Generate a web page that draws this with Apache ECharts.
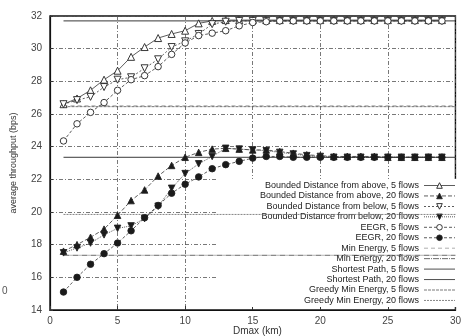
<!DOCTYPE html>
<html><head><meta charset="utf-8">
<script src="https://cdn.jsdelivr.net/npm/echarts@6/dist/echarts.min.js"></script>
<style>html,body{margin:0;padding:0;background:#fff}#c{width:464px;height:336px}</style>
</head><body><div id="c"></div>
<script>
const dmax = [1,2,3,4,5,6,7,8,9,10,11,12,13,14,15,16,17,18,19,20,21,22,23,24,25,26,27,28,29];
const bdAbove5 = [26.6,26.95,27.45,28.1,28.65,29.5,30.1,30.65,30.9,31.1,31.55,31.7,31.75,31.75,31.75,31.75,31.75,31.75,31.75,31.75,31.75,31.75,31.75,31.75,31.75,31.75,31.75,31.75,31.75];
const bdAbove20 = [17.6,18.0,18.45,18.95,19.8,20.7,21.35,22.2,22.85,23.35,23.65,23.85,23.9,23.85,23.8,23.8,23.7,23.6,23.5,23.45,23.4,23.4,23.4,23.4,23.35,23.35,23.35,23.35,23.35];
const bdBelow5 = [26.6,26.85,27.05,27.65,28.1,28.25,28.8,29.35,30.1,30.45,30.9,31.5,31.65,31.7,31.7,31.7,31.7,31.7,31.7,31.7,31.7,31.7,31.7,31.7,31.7,31.7,31.7,31.7,31.7];
const bdBelow20 = [17.5,17.8,18.1,18.6,19.0,19.15,19.6,20.35,21.45,22.35,22.95,23.4,23.9,23.85,23.8,23.75,23.65,23.55,23.45,23.4,23.35,23.35,23.35,23.35,23.35,23.35,23.35,23.35,23.35];
const eegr5 = [24.35,25.4,26.1,26.7,27.45,28.1,28.35,28.9,29.65,30.35,30.8,30.95,31.1,31.4,31.6,31.65,31.7,31.7,31.7,31.7,31.7,31.7,31.7,31.7,31.7,31.7,31.7,31.7,31.7];
const eegr20 = [15.1,16.0,16.8,17.45,18.1,18.85,19.65,20.4,21.15,21.7,22.15,22.65,22.9,23.1,23.3,23.4,23.4,23.35,23.35,23.35,23.35,23.35,23.35,23.35,23.35,23.35,23.35,23.35,23.35];
const constX = [1, 30];
const minEnergy5 = 26.5;
const minEnergy20 = 17.35;
const shortest5 = 31.7;
const shortest20 = 23.35;
const greedy5 = 26.45;
const greedy20 = 19.85;
const names = [
  'Bounded Distance from above, 5 flows',
  'Bounded Distance from above, 20 flows',
  'Bounded Distance from below, 5 flows',
  'Bounded Distance from below, 20 flows',
  'EEGR, 5 flows',
  'EEGR, 20 flows',
  'Min Energy, 5 flows',
  'Min Energy, 20 flows',
  'Shortest Path, 5 flows',
  'Shortest Path, 20 flows',
  'Greedy Min Energy, 5 flows',
  'Greedy Min Energy, 20 flows'
];
const xTicks = [0,5,10,15,20,25,30];
const yTicks = [14,16,18,20,22,24,26,28,30,32];

const pairs = ys => dmax.map((x,i)=>[x, ys[i]]);
const constPairs = v => constX.map(x=>[x, v]);

function dataSeries(name, ys, symbol, rotate, dash, filled) {
  return {
    name, type:'line', data: pairs(ys), symbol, symbolSize: symbol === 'circle' ? 6.5 : (filled ? 6.5 : 7),
    symbolRotate: rotate, showAllSymbol:true, z:3,
    lineStyle:{color:'#333', width:0.8, type:dash},
    itemStyle:{color: filled ? '#1a1a1a' : '#fff', borderColor:'#222', borderWidth:0.9},
    emphasis:{disabled:true}, animation:false
  };
}
function constSeries(name, v, dash, color, width) {
  return {
    name, type:'line', data: constPairs(v), symbol:'none', z:2,
    lineStyle:{color, width, type:dash},
    itemStyle:{color:'rgba(0,0,0,0)', borderColor:'rgba(0,0,0,0)'},
    emphasis:{disabled:true}, animation:false
  };
}

const chart = echarts.init(document.getElementById('c'), null, {renderer:'canvas'});
chart.setOption({
  backgroundColor:'#fff',
  animation:false,
  textStyle:{fontFamily:'Liberation Sans, Arial, sans-serif'},
  title:{text:'Dmax (km)', left:233, top:326, padding:0, textStyle:{fontSize:10, fontWeight:'normal', color:'#333', fontFamily:'Liberation Sans'}},
  graphic:[{type:'text', left:2, top:286, style:{text:'0', fontSize:10, fill:'#555', fontFamily:'Liberation Sans'}}],
  grid:{left:50, right:-4, top:16, bottom:26, show:true, borderColor:'#111', borderWidth:1.4},
  legend:{
    orient:'vertical', align:'right', left:216, top:179, z:1,
    backgroundColor:'#fff', padding:[2,10,2,0],
    itemWidth:31, itemHeight:7, itemGap:1.45,
    lineStyle:{width:0.8},
    itemStyle:{borderWidth:0.9},
    data:names,
    formatter: n => '{a|' + n + '}',
    textStyle:{rich:{a:{width:203, align:'right', fontSize:9, lineHeight:10, color:'#222', fontFamily:'Liberation Sans'}}}
  },
  xAxis:{
    type:'value', min:0, max:30, interval:5,
    axisLine:{lineStyle:{color:'#111', width:1.2}},
    axisTick:{inside:true, length:4, lineStyle:{color:'#333'}},
    axisLabel:{fontSize:10, color:'#444', margin:6, formatter: v => xTicks.includes(v) ? String(v) : ''},
    splitLine:{show:true, lineStyle:{color:'#555', width:0.8, type:[4,2,1,2]}}
  },
  yAxis:{
    type:'value', min:14, max:32, interval:2,
    name:'average throughput (bps)', nameLocation:'middle', nameRotate:90, nameGap:32,
    nameTextStyle:{fontSize:9, color:'#333'},
    axisLine:{lineStyle:{color:'#111', width:1.2}},
    axisTick:{inside:true, length:3, lineStyle:{color:'#333'}},
    axisLabel:{fontSize:10, color:'#444', margin:8, formatter: v => yTicks.includes(v) ? String(v) : ''},
    splitLine:{show:true, lineStyle:{color:'#555', width:0.8, type:[4,2,1,2]}}
  },
  series:[
    dataSeries(names[0], bdAbove5, 'triangle', 0, 'solid', false),
    dataSeries(names[1], bdAbove20, 'triangle', 0, [4,2], true),
    dataSeries(names[2], bdBelow5, 'triangle', 180, [2,2], false),
    dataSeries(names[3], bdBelow20, 'triangle', 180, [1,1], true),
    dataSeries(names[4], eegr5, 'circle', 0, [3,2], false),
    dataSeries(names[5], eegr20, 'circle', 0, [3,2], true),
    constSeries(names[6], minEnergy5, [4,3], '#999', 0.9),
    constSeries(names[7], minEnergy20, [6,1,1,1], '#444', 0.8),
    constSeries(names[8], shortest5, 'solid', '#222', 0.9),
    constSeries(names[9], shortest20, 'solid', '#222', 0.9),
    constSeries(names[10], greedy5, [3,1], '#555', 0.8),
    constSeries(names[11], greedy20, [2,1], '#666', 0.8)
  ]
});
</script></body></html>
